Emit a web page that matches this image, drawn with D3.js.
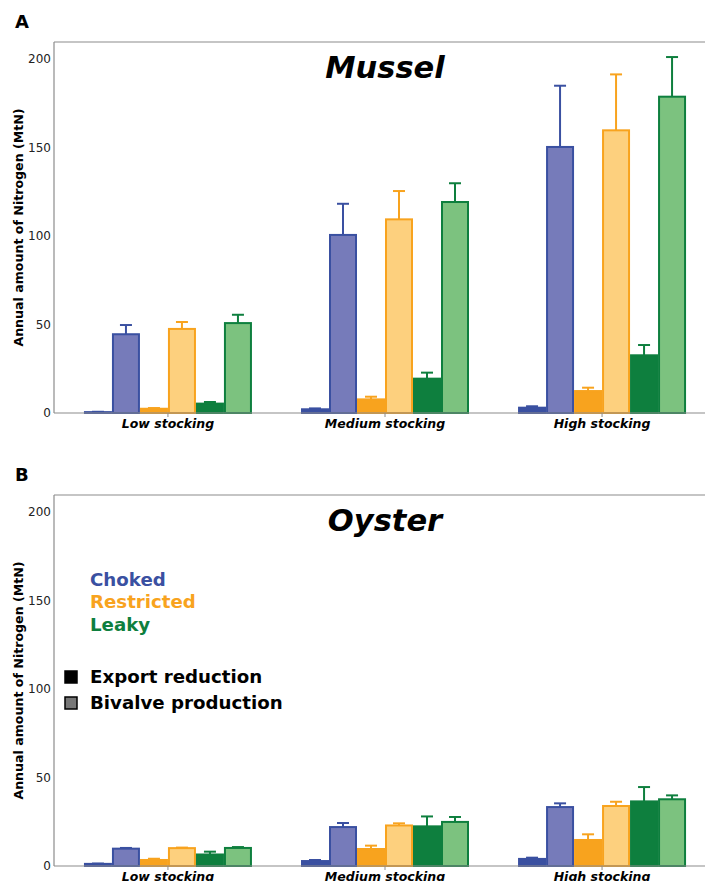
<!DOCTYPE html>
<html>
<head>
<meta charset="utf-8">
<script src="https://cdn.jsdelivr.net/npm/d3@7"></script>
<style>
  body { margin: 0; background: #fff; }
  svg { display: block; font-family: "DejaVu Sans", sans-serif; }
</style>
</head>
<body>
<svg id="chart" width="705" height="881"></svg>
<script>
// categories and series
var stockings = ["Low stocking", "Medium stocking", "High stocking"];
var scenarios = ["Choked", "Restricted", "Leaky"];
var kinds = ["Export reduction", "Bivalve production"];
var yTicks = [0, 50, 100, 150, 200];

// values per stocking: [choked exp, choked biv, restr exp, restr biv, leaky exp, leaky biv]
var musselMean = [
  [0.5, 44.5, 2.4, 47.5, 5.3, 50.8],
  [2.1, 100.6, 7.7, 109.4, 19.4, 119.2],
  [3.0, 150.3, 12.4, 159.7, 32.6, 178.7]
];
var musselTop = [
  [0.7, 49.7, 2.8, 51.4, 6.2, 55.5],
  [2.6, 118.2, 9.2, 125.4, 22.8, 129.8],
  [3.8, 184.9, 14.3, 191.3, 38.4, 201.1]
];
var oysterMean = [
  [1.2, 9.8, 3.4, 10.1, 6.5, 10.2],
  [2.8, 22.0, 9.6, 22.9, 22.4, 24.9],
  [4.0, 33.3, 14.7, 33.9, 36.5, 37.7]
];
var oysterTop = [
  [1.4, 10.2, 4.1, 10.4, 8.1, 10.7],
  [3.4, 24.3, 11.5, 24.1, 28.0, 27.7],
  [4.7, 35.4, 17.9, 36.3, 44.6, 39.9]
];

var dark = {Choked: "#3a50a1", Restricted: "#f8a31e", Leaky: "#0e7f3e"};
var light = {Choked: "#767bba", Restricted: "#fdd07e", Leaky: "#7cc27f"};

var svg = d3.select("#chart");
var left = 54, right = 716;

var x = d3.scalePoint().domain(stockings).range([left, right]).padding(0.525);
var series = d3.range(6);
var xs = d3.scaleBand().domain(series).range([-84, 84]);

function drawPanel(top, bottom, label, title, means, tops, legend) {
  var y = d3.scaleLinear().domain([0, 209.6]).range([bottom, top]);
  var g = svg.append("g");

  // spines
  g.append("line").attr("x1", left).attr("x2", 705).attr("y1", top).attr("y2", top)
    .attr("stroke", "#8c8c8c").attr("stroke-width", 1.2);
  g.append("line").attr("x1", left).attr("x2", left).attr("y1", top).attr("y2", bottom)
    .attr("stroke", "#8c8c8c").attr("stroke-width", 1.2);

  // y axis labels
  g.selectAll(".ytick").data(yTicks).enter().append("text")
    .attr("x", left - 3).attr("y", function(d) { return y(d); })
    .attr("dy", "0.35em").attr("text-anchor", "end")
    .attr("font-size", 12).attr("fill", "#222")
    .text(function(d) { return d; });

  g.append("text")
    .attr("transform", "translate(23," + ((top + bottom) / 2) + ") rotate(-90)")
    .attr("text-anchor", "middle").attr("font-size", 12.6).attr("font-weight", "bold")
    .text("Annual amount of Nitrogen (MtN)");

  // bars
  stockings.forEach(function(s, i) {
    var grp = g.append("g").attr("transform", "translate(" + x(s) + ",0)");
    series.forEach(function(k) {
      var sc = scenarios[Math.floor(k / 2)];
      var cx = xs(k) + xs.bandwidth() / 2;
      grp.append("line")
        .attr("x1", cx).attr("x2", cx)
        .attr("y1", y(means[i][k])).attr("y2", y(tops[i][k]))
        .attr("stroke", dark[sc]).attr("stroke-width", 2);
      grp.append("line")
        .attr("x1", cx - 6).attr("x2", cx + 6)
        .attr("y1", y(tops[i][k])).attr("y2", y(tops[i][k]))
        .attr("stroke", dark[sc]).attr("stroke-width", 2);
    });
    grp.selectAll("rect").data(series).enter().append("rect")
      .attr("x", function(k) { return xs(k) + 1; })
      .attr("width", xs.bandwidth() - 2)
      .attr("y", function(k) { return y(means[i][k]); })
      .attr("height", function(k) { return y(0) - y(means[i][k]); })
      .attr("fill", function(k) {
        var sc = scenarios[Math.floor(k / 2)];
        return k % 2 === 0 ? dark[sc] : light[sc];
      })
      .attr("stroke", function(k) { return dark[scenarios[Math.floor(k / 2)]]; })
      .attr("stroke-width", 2);
  });

  // x axis
  g.append("line").attr("x1", left).attr("x2", 705).attr("y1", bottom).attr("y2", bottom)
    .attr("stroke", "#8c8c8c").attr("stroke-width", 1.2);
  g.selectAll(".xtick").data(stockings).enter().append("line")
    .attr("x1", function(d) { return x(d); }).attr("x2", function(d) { return x(d); })
    .attr("y1", bottom).attr("y2", bottom + 4)
    .attr("stroke", "#8c8c8c");
  g.selectAll(".xlab").data(stockings).enter().append("text")
    .attr("x", function(d) { return x(d); }).attr("y", bottom + 15)
    .attr("text-anchor", "middle").attr("font-size", 12.5)
    .attr("font-weight", "bold").attr("font-style", "italic")
    .text(function(d) { return d; });

  // titles
  g.append("text").attr("x", 385).attr("y", top + 36)
    .attr("text-anchor", "middle").attr("font-size", 30.5)
    .attr("font-weight", "bold").attr("font-style", "italic")
    .text(title);
  g.append("text").attr("x", 15).attr("y", top - 14)
    .attr("font-size", 18).attr("font-weight", "bold").text(label);

  if (legend) {
    g.selectAll(".scen").data(scenarios).enter().append("text")
      .attr("x", 90).attr("y", function(d, i) { return y(162) + i * 22.5; })
      .attr("dy", "0.35em").attr("font-size", 18.2).attr("font-weight", "bold")
      .attr("fill", function(d) { return dark[d]; })
      .text(function(d) { return d; });
    var kg = g.selectAll(".kind").data(kinds).enter().append("g")
      .attr("transform", function(d, i) { return "translate(0," + (y(100) - 12 + i * 26) + ")"; });
    kg.append("rect").attr("x", 65).attr("y", -6).attr("width", 12).attr("height", 12)
      .attr("fill", function(d, i) { return i === 0 ? "#000" : "#777"; })
      .attr("stroke", "#000").attr("stroke-width", 1.5);
    kg.append("text").attr("x", 90).attr("dy", "0.35em")
      .attr("font-size", 18.2).attr("font-weight", "bold")
      .text(function(d) { return d; });
  }
}

drawPanel(42, 413, "A", "Mussel", musselMean, musselTop, false);
drawPanel(495, 866, "B", "Oyster", oysterMean, oysterTop, true);
</script>
</body>
</html>
